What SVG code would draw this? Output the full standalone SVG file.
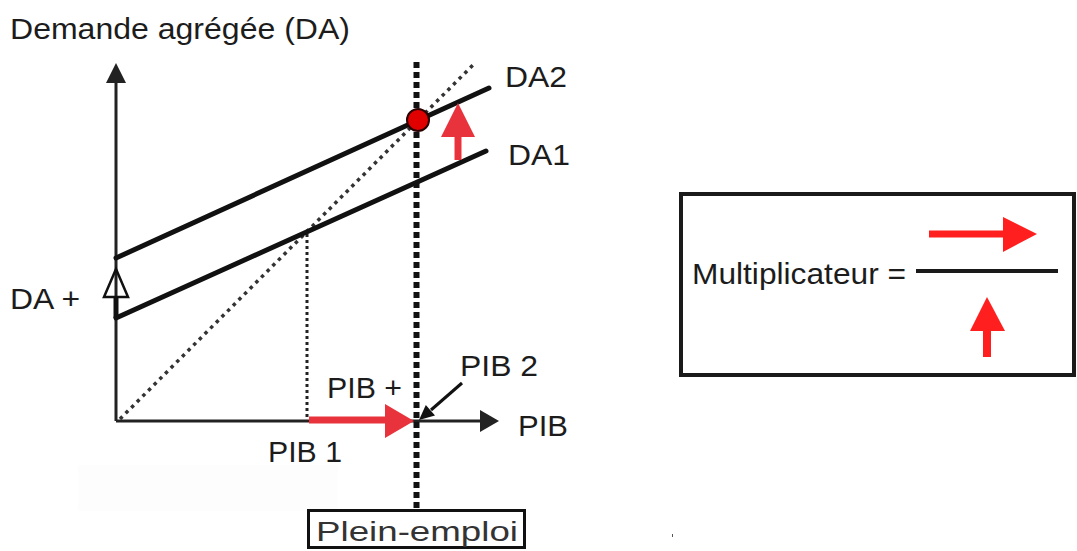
<svg xmlns="http://www.w3.org/2000/svg" width="1077" height="551" viewBox="0 0 1077 551">
<style>
text { font-family: "Liberation Sans", Arial, sans-serif; fill: #1c1c1c; font-size: 30px; }
.axis { stroke: #222; stroke-width: 3; fill: none; }
.da { stroke: #111; stroke-width: 5; fill: none; stroke-linecap: round; }
.red { fill: #e8333c; stroke: none; }
.redb { fill: #ff1f1f; stroke: none; }
</style>
<rect x="0" y="0" width="1077" height="551" fill="#fff"/>
<rect x="78" y="465" width="260" height="46" fill="#fdfdfd"/>
<rect x="672" y="534" width="1" height="3" fill="#555"/>

<g id="title"><text x="10" y="39" textLength="340" lengthAdjust="spacingAndGlyphs">Demande agrégée (DA)</text></g>

<g id="connectors">
  <!-- axes -->
  <line class="axis" x1="116" y1="82" x2="116" y2="421"/>
  <polygon points="116,63 106,83 126,83" fill="#222"/>
  <line class="axis" x1="116" y1="421" x2="482" y2="421"/>
  <polygon points="499,421 480,410 480,432" fill="#222"/>
  <!-- diagonal 45 -->
  <line x1="120" y1="419" x2="473" y2="65" stroke="#333" stroke-width="3.5" stroke-dasharray="3.5 4.5"/>
  <!-- PIB1 dotted vertical -->
  <line x1="307" y1="234" x2="307" y2="420" stroke="#222" stroke-width="3" stroke-dasharray="3 3"/>
  <!-- full employment dashed -->
  <line x1="416.5" y1="62" x2="416.5" y2="510" stroke="#111" stroke-width="6" stroke-dasharray="6 4"/>
  <!-- DA lines -->
  <line class="da" x1="116" y1="318" x2="486" y2="151"/>
  <line class="da" x1="116" y1="258" x2="489" y2="88"/>
  <!-- hollow arrow on y-axis -->
  <line x1="116" y1="296" x2="116" y2="318" stroke="#111" stroke-width="5"/>
  <polygon points="116,269 104,297 128,297" fill="none" stroke="#111" stroke-width="2.5" stroke-linejoin="miter"/>
  <!-- red horizontal arrow -->
  <line x1="309" y1="420" x2="387" y2="420" stroke="#e8333c" stroke-width="7"/>
  <polygon class="red" points="385,404 385,438 414,421"/>
  <!-- red up arrow in graph -->
  <line x1="458" y1="160" x2="458" y2="135" stroke="#e8333c" stroke-width="7"/>
  <polygon class="red" points="441,137 475,137 458,103"/>
  <!-- PIB 2 pointer -->
  <line x1="462" y1="383" x2="431" y2="410" stroke="#111" stroke-width="3"/>
  <polygon points="419,420 435,415.5 425.8,404.9" fill="#111"/>
</g>

<g id="equilibre"><circle cx="418" cy="120" r="11" fill="#e00000" stroke="#2a0000" stroke-width="2"/></g>

<g id="labels">
  <text x="505" y="87" textLength="62" lengthAdjust="spacingAndGlyphs">DA2</text>
  <text x="508" y="165" textLength="62" lengthAdjust="spacingAndGlyphs">DA1</text>
  <text x="10" y="309" textLength="70" lengthAdjust="spacingAndGlyphs">DA +</text>
  <text x="327" y="398" textLength="75" lengthAdjust="spacingAndGlyphs">PIB +</text>
  <text x="460" y="376" textLength="78" lengthAdjust="spacingAndGlyphs">PIB 2</text>
  <text x="518" y="436" textLength="50" lengthAdjust="spacingAndGlyphs">PIB</text>
  <text x="268" y="462" textLength="74" lengthAdjust="spacingAndGlyphs">PIB 1</text>
</g>

<g id="plein-emploi">
  <rect x="308.5" y="510.5" width="216" height="37" fill="#fff" stroke="#111" stroke-width="3"/>
  <text x="316" y="541" style="font-size:28px;fill:#333" textLength="202" lengthAdjust="spacingAndGlyphs">Plein-emploi</text>
</g>

<g id="multiplicateur">
  <rect x="681" y="194" width="393" height="181" fill="#fff" stroke="#1a1a1a" stroke-width="4"/>
  <text x="692" y="284" textLength="214" lengthAdjust="spacingAndGlyphs">Multiplicateur =</text>
  <line x1="916" y1="271" x2="1058" y2="271" stroke="#1a1a1a" stroke-width="4"/>
  <line x1="929" y1="234" x2="1005" y2="234" stroke="#ff1f1f" stroke-width="7"/>
  <polygon class="redb" points="1003,217 1003,252 1037,234"/>
  <line x1="987" y1="357" x2="987" y2="329" stroke="#ff1f1f" stroke-width="8"/>
  <polygon class="redb" points="970,331 1005,331 987,297"/>
</g>
</svg>
